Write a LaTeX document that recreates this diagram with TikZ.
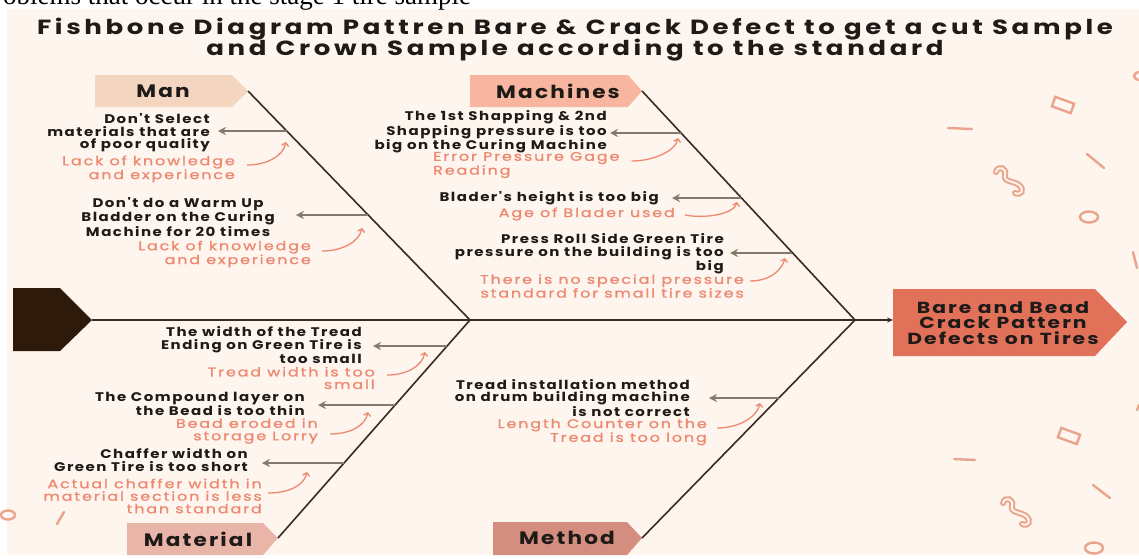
\documentclass[tikz,border=0pt]{standalone}
\usepackage{fontspec}
\setmainfont{Poppins}
\newfontfamily\fishfont[LetterSpace=10]{Poppins}
\newfontfamily\titlefont[LetterSpace=14]{Poppins}
\newfontfamily\reasonfont[LetterSpace=12,FakeBold=1]{Poppins}
\newfontfamily\notefont{Liberation Serif}
\usetikzlibrary{arrows.meta}
\definecolor{paper}{HTML}{FDF5EE}
\definecolor{bonecol}{HTML}{3B2A20}
\definecolor{subcol}{HTML}{85786C}
\definecolor{whycol}{HTML}{EE8870}
\definecolor{inkcol}{HTML}{1E1A18}
\definecolor{headcol}{HTML}{2E1A0B}
\definecolor{effcol}{HTML}{E27159}
\definecolor{mancol}{HTML}{F3D5C0}
\definecolor{machcol}{HTML}{F8B6A0}
\definecolor{matcol}{HTML}{E9B5A9}
\definecolor{methcol}{HTML}{D38E7F}
\definecolor{decocol}{HTML}{EBA48C}

\begin{document}
\begin{tikzpicture}[x=1pt,y=-1pt,
  bone/.style={draw=bonecol, line width=1.6pt},
  sub/.style={draw=subcol, line width=2.4pt, -{Stealth[length=8pt,width=8pt]}},
  why/.style={draw=whycol, line width=1.3pt, -{Straight Barb[length=3pt,width=7pt]}},
  cause/.style={font=\fishfont\bfseries\fontsize{12.5}{12.5}\selectfont, text=inkcol, align=right, inner sep=0pt, anchor=east, xscale=1.2},
  reason/.style={font=\reasonfont\fontsize{12.5}{12.5}\selectfont, text=whycol, align=right, inner sep=0pt, anchor=east, xscale=1.27},
  cat/.style={font=\fishfont\bfseries\fontsize{18}{18}\selectfont, text=inkcol, inner sep=0pt, xscale=1.2},
  deco/.style={draw=decocol, line width=2.4pt, line cap=round}]

\useasboundingbox (0,0) rectangle (1139,558);
\clip (0,0) rectangle (1139,558);
\fill[white] (0,0) rectangle (1139,558);
\fill[paper] (7,9) rectangle (1139,555);

% cut caption line above the panel
\node[font=\notefont\fontsize{27}{27}\selectfont, anchor=base west, inner sep=0pt] (note) at (3,4) {oblems that occur in the stage 1 tire sample};

% title
\node[font=\titlefont\bfseries\fontsize{20.5}{17}\selectfont, text=inkcol, align=center, xscale=1.27, inner sep=0pt] (title) at (575,40)
  {Fishbone Diagram Pattren Bare \& Crack Defect to get a cut Sample\\[-2pt]and Crown Sample according to the standard};

% head and effect
\fill[headcol] (13,288) -- (60,288) -- (92,320) -- (60,351) -- (13,351) -- cycle;
\coordinate (head) at (92,320);
\fill[effcol] (893,289) -- (1095,289) -- (1127,322) -- (1095,356) -- (893,356) -- cycle;
\node[font=\fishfont\bfseries\fontsize{16}{15.5}\selectfont, text=inkcol, align=center, xscale=1.27] (effect) at (1003,323)
  {Bare and Bead\\Crack Pattern\\Defects on Tires};
\coordinate (effin) at (893,320);
\coordinate (j1) at (470,320);
\coordinate (j2) at (855,320);

% categories
\fill[mancol] (95,75) -- (232,75) -- (248,91) -- (232,107) -- (95,107) -- cycle;
\node[cat] (man) at (163,91) {Man};
\coordinate (mantip) at (248,91);
\fill[machcol] (470,75) -- (628,75) -- (642,91) -- (628,107) -- (470,107) -- cycle;
\node[cat] (mach) at (558,91) {Machines};
\coordinate (machtip) at (642,91);
\fill[matcol] (127,523) -- (263,523) -- (278,538) -- (263,555) -- (127,555) -- cycle;
\node[cat] (mat) at (198,539) {Material};
\coordinate (mattip) at (278,538);
\fill[methcol] (493,522) -- (627,522) -- (642,538) -- (627,555) -- (493,555) -- cycle;
\node[cat] (meth) at (567,538) {Method};
\coordinate (methtip) at (642,538);

% spine and bones
\draw[bone] (head) -- (j1) -- (j2);
\draw[bone, -{Stealth[length=6pt,width=5pt]}] (j2) -- (effin);
\draw[bone] (mantip) -- (j1) -- (mattip);
\draw[bone] (machtip) -- (j2) -- (methtip);

% Man
\coordinate (m1) at (287,131);
\coordinate (m1a) at (218,131);
\coordinate (m1b) at (286,142);
\node[cause] (m1t) at (210,133) {Don't Select\\materials that are\\of poor quality};
\node[reason] (m1r) at (235,169) {Lack of knowledge\\and experience};
\draw[sub] (m1) -- (m1a);
\draw[why] ([shift={(12,-4)}]m1r.east) .. controls +(20,0) and +(-3,14) .. (m1b);

\coordinate (m2) at (368,215);
\coordinate (m2a) at (296,215);
\coordinate (m2b) at (362,228);
\node[cause, align=center] (m2t) at (275,217) {Don't do a Warm Up\\Bladder on the Curing\\Machine for 20 times};
\node[reason] (m2r) at (311,254) {Lack of knowledge\\and experience};
\draw[sub] (m2) -- (m2a);
\draw[why] ([shift={(11,-3)}]m2r.east) .. controls +(20,0) and +(-3,14) .. (m2b);

% Machines
\coordinate (c1) at (681,133);
\coordinate (c1a) at (610,133);
\coordinate (c1b) at (678,138);
\node[cause] (c1t) at (607,132) {The 1st Shapping \& 2nd\\Shapping pressure is too\\big on the Curing Machine};
\node[reason, anchor=west, align=left] (c1r) at (433,165) {Error Pressure Gage\\Reading};
\draw[sub] (c1) -- (c1a);
\draw[why] ([shift={(12,-4)}]c1r.east) .. controls +(20,0) and +(-3,14) .. (c1b);

\coordinate (c2) at (741,198);
\coordinate (c2a) at (672,198);
\coordinate (c2b) at (737,202);
\node[cause] (c2t) at (659,198) {Blader's height is too big};
\node[reason] (c2r) at (675,214) {Age of Blader used};
\draw[sub] (c2) -- (c2a);
\draw[why] ([shift={(10,1)}]c2r.east) .. controls +(20,4) and +(-3,12) .. (c2b);

\coordinate (c3) at (792,253);
\coordinate (c3a) at (730,253);
\coordinate (c3b) at (785,258);
\node[cause] (c3t) at (724,254) {Press Roll Side Green Tire\\pressure on the building is too\\big};
\node[reason] (c3r) at (744,286) {There is no special pressure\\standard for small tire sizes};
\draw[sub] (c3) -- (c3a);
\draw[why] ([shift={(6,-5)}]c3r.east) .. controls +(20,0) and +(-3,12) .. (c3b);

% Material
\coordinate (t1) at (447,346);
\coordinate (t1a) at (373,346);
\coordinate (t1b) at (425,352);
\node[cause] (t1t) at (362,345) {The width of the Tread\\Ending on Green Tire is\\too small};
\node[reason] (t1r) at (375,378) {Tread width is too\\small};
\draw[sub] (t1) -- (t1a);
\draw[why] ([shift={(12,-3)}]t1r.east) .. controls +(20,0) and +(-3,14) .. (t1b);

\coordinate (t2) at (395,405);
\coordinate (t2a) at (318,405);
\coordinate (t2b) at (368,412);
\node[cause] (t2t) at (305,404) {The Compound layer on\\the Bead is too thin};
\node[reason] (t2r) at (318,431) {Bead eroded in\\storage Lorry};
\draw[sub] (t2) -- (t2a);
\draw[why] ([shift={(12,3)}]t2r.east) .. controls +(20,0) and +(-3,14) .. (t2b);

\coordinate (t3) at (344,463);
\coordinate (t3a) at (262,463);
\coordinate (t3b) at (307,472);
\node[cause] (t3t) at (248,460) {Chaffer width on\\Green Tire is too short};
\node[reason] (t3r) at (262,496) {Actual chaffer width in\\material section is less\\than standard};
\draw[sub] (t3) -- (t3a);
\draw[why] ([shift={(6,-3)}]t3r.east) .. controls +(20,0) and +(-3,14) .. (t3b);

% Method
\coordinate (d1) at (779,398);
\coordinate (d1a) at (709,398);
\coordinate (d1b) at (760,403);
\node[cause] (d1t) at (690,398) {Tread installation method\\on drum building machine\\is not correct};
\node[reason] (d1r) at (707,432) {Length Counter on the\\Tread is too long};
\draw[sub] (d1) -- (d1a);
\draw[why] ([shift={(10,-4)}]d1r.east) .. controls +(22,0) and +(-3,14) .. (d1b);

% confetti
\draw[deco] (1140,76) ellipse [x radius=6, y radius=4];
\draw[deco, rotate around={-20:(1063,105)}] (1053,100) rectangle (1073,110);
\draw[deco] (948,128) -- (972,129);
\draw[deco] (1087,154) -- (1104,168);
\draw[decocol, line width=6pt, line cap=round] (996,172) .. controls (998,165) and (1007,168) .. (1005,175)
  .. controls (1003,182) and (1014,181) .. (1019,185) .. controls (1025,190) and (1021,196) .. (1015,193);
\draw[paper, line width=2pt, line cap=round] (996,172) .. controls (998,165) and (1007,168) .. (1005,175)
  .. controls (1003,182) and (1014,181) .. (1019,185) .. controls (1025,190) and (1021,196) .. (1015,193);
\draw[deco] (1089,217) ellipse [x radius=9, y radius=5.5];
\draw[deco] (1133,252) -- (1137,268);
\draw[deco] (1139,405) -- (1137,410);
\draw[deco, rotate around={-20:(1069,436)}] (1059,431) rectangle (1079,441);
\draw[deco] (954,459) -- (975,460);
\draw[deco] (1093,485) -- (1110,498);
\draw[decocol, line width=6pt, line cap=round] (1003,503) .. controls (1005,496) and (1014,499) .. (1012,506)
  .. controls (1010,513) and (1021,512) .. (1026,516) .. controls (1032,521) and (1028,527) .. (1022,524);
\draw[paper, line width=2pt, line cap=round] (1003,503) .. controls (1005,496) and (1014,499) .. (1012,506)
  .. controls (1010,513) and (1021,512) .. (1026,516) .. controls (1032,521) and (1028,527) .. (1022,524);
\draw[deco] (1094,548) ellipse [x radius=9, y radius=5.5];
\draw[deco] (8,515) ellipse [x radius=7, y radius=4.5];
\draw[deco] (57,524) -- (64,512);
\end{tikzpicture}
\end{document}
